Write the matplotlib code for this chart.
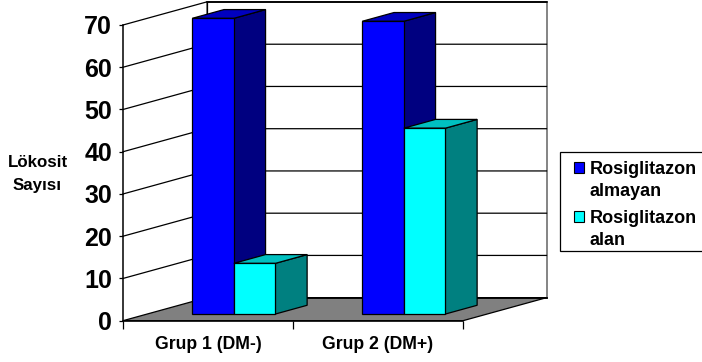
import numpy as np
import matplotlib
matplotlib.use('Agg')
import matplotlib.pyplot as plt
from matplotlib.patches import Patch, Polygon, Rectangle

plt.rcParams['font.family'] = ['Liberation Sans', 'DejaVu Sans']
plt.rcParams['font.weight'] = 'bold'

groups = ['Grup 1 (DM-)', 'Grup 2 (DM+)']
series_names = ['Rosiglitazon\nalmayan', 'Rosiglitazon\nalan']
almayan = [70, 69.3]
alan = [12, 44]
yticks = [0, 10, 20, 30, 40, 50, 60, 70]

W, H = 702, 362
# depth of the 3d box, in data units
DX = 83.5 / 170
DY = 23 / 4.22
BAR_W = 0.2445
BAR_START = 0.265
D0, D1 = 0.29, 0.67


def proj(x, y, d):
    return (x + d * DX, y + d * DY)


def poly(ax, pts, color, edge='black', lw=0.9, z=1):
    ax.add_patch(Polygon([proj(*p) for p in pts], closed=True, facecolor=color,
                         edgecolor=edge, lw=lw, zorder=z, clip_on=False,
                         joinstyle='miter'))


def bar3d(ax, x, h, front, side, top, z):
    x1 = x + BAR_W
    poly(ax, [(x1, 0, D0), (x1, h, D0), (x1, h, D1), (x1, 0, D1)], side, z=z)
    poly(ax, [(x, h, D0), (x1, h, D0), (x1, h, D1), (x, h, D1)], top, z=z)
    poly(ax, [(x, 0, D0), (x1, 0, D0), (x1, h, D0), (x, h, D0)], front, z=z + 0.1)


fig = plt.figure(figsize=(W / 100, H / 100), dpi=100)
ax = fig.add_axes([123 / W, 1 - 320.7 / H, 340 / W, (320.7 - 25) / H])
ax.set_xlim(0, 2)
ax.set_ylim(0, 70)
ax.patch.set_visible(False)

# back wall and left wall
poly(ax, [(0, 0, 1), (2, 0, 1), (2, 70, 1), (0, 70, 1)], 'white', edge='#707070', lw=1.2, z=1)
ax.plot(*zip(proj(0, 70, 1), proj(2, 70, 1)), color='black', lw=1.1, zorder=1.2, clip_on=False)
ax.plot(*zip(proj(0, 0, 1), proj(0, 70, 1)), color='black', lw=0.9, zorder=1.2, clip_on=False)

# grid lines along side wall and back wall
for v in yticks[1:]:
    a = proj(0, v, 0)
    b = proj(0, v, 1)
    c = proj(2, v, 1)
    ax.plot([a[0], b[0], c[0]], [a[1], b[1], c[1]], color='black', lw=0.9,
            zorder=1.5, clip_on=False)

# floor
poly(ax, [(0, 0, 0), (2, 0, 0), (2, 0, 1), (0, 0, 1)], '#808080', z=2)
ax.plot(*zip(proj(0, 0, 1), proj(2, 0, 1)), color='black', lw=1.3, zorder=2.1, clip_on=False)

for i in range(len(groups)):
    bar3d(ax, i + BAR_START, almayan[i], '#0000FF', '#000080', '#0000C0', 3)
    bar3d(ax, i + BAR_START + BAR_W, alan[i], '#00FFFF', '#008080', '#00C0C0', 4)

ax.spines['top'].set_visible(False)
ax.spines['right'].set_visible(False)
ax.spines['left'].set_linewidth(1.1)
ax.spines['bottom'].set_linewidth(1.1)
ax.spines['left'].set_zorder(6)
ax.spines['bottom'].set_zorder(6)

ax.set_yticks(yticks)
ax.tick_params(axis='y', labelsize=18, length=3, width=0.9, pad=5)
ax.set_xticks([0, 1, 2])
ax.tick_params(axis='x', length=6, width=0.9, labelbottom=False)
for i, g in enumerate(groups):
    ax.text(i + 0.5, -23.4 / 4.22, g, ha='center', va='center', fontsize=12.7)

fig.text(37.5 / W, 1 - 174 / H, 'Lökosit\nSayısı', ha='center', va='center',
         fontsize=12.2, linespacing=1.6)

# legend box runs past the right edge of the picture
fig.add_artist(Rectangle((560 / W, 1 - 251 / H), 160 / W, 99 / H, facecolor='white',
                         edgecolor='black', lw=0.9, transform=fig.transFigure))
handles = [Patch(facecolor='#0000FF', edgecolor='black', lw=0.8),
           Patch(facecolor='#00FFFF', edgecolor='black', lw=0.8)]
leg = fig.legend(handles, series_names, loc='upper left',
                 bbox_to_anchor=(560 / W, 1 - 147 / H), frameon=False,
                 borderaxespad=0, handlelength=0.55, handleheight=0.55,
                 handletextpad=0.33, labelspacing=0.56, borderpad=0.78,
                 prop={'size': 13, 'weight': 'bold'})
for t in leg.get_texts():
    t.set_linespacing(1.38)
# the key sits on the first text line
for h in leg.legend_handles:
    h.set_y(h.get_y() + 9.5)

fig.savefig('out.png', dpi=100)
